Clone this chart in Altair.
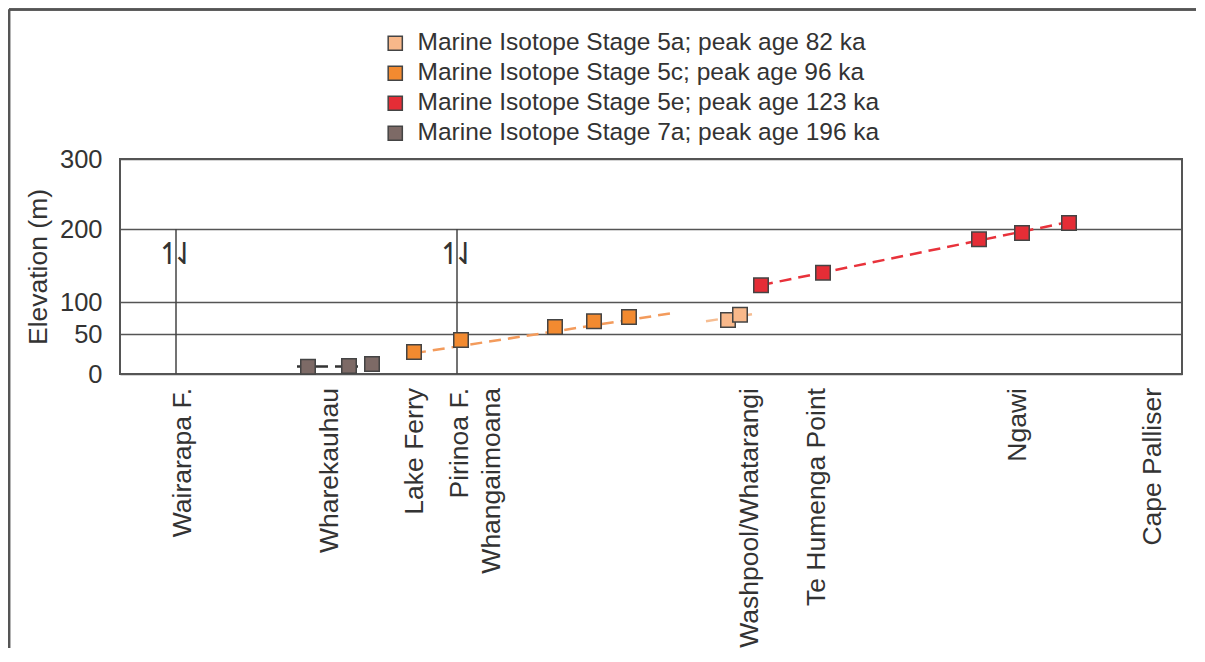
import altair as alt
import pandas as pd

# ---------------- data ----------------
stage_names = [
    "Marine Isotope Stage 5a; peak age 82 ka",
    "Marine Isotope Stage 5c; peak age 96 ka",
    "Marine Isotope Stage 5e; peak age 123 ka",
    "Marine Isotope Stage 7a; peak age 196 ka",
]
stage_fill = ["#F8B88A", "#F28A30", "#E52D36", "#7D6A66"]
stage_line = ["#F6BD92", "#F39B5C", "#E8323B", "#333333"]

# terrace points: position along coast (arbitrary units), elevation (m), stage index
pt_pos = [188, 229, 252, 294, 341, 435, 474, 509, 608, 620, 641, 703, 859, 902, 949]
pt_elev = [9, 10, 12.5, 27.5, 42.5, 61, 70, 76.5, 72, 80, 123, 140, 186, 194.5, 208.5]
pt_stage = [3, 3, 3, 1, 1, 1, 1, 1, 0, 0, 2, 2, 2, 2, 2]

# dashed trend lines: endpoints
ln_stage = [3, 3, 1, 1, 0, 0, 2, 2]
ln_pos = [177, 238, 294, 554, 586, 632, 641, 949]
ln_elev = [9.5, 9.5, 26, 83, 70, 81, 123, 210]

# site labels along the coast
site_names = ["Wairarapa F.", "Wharekauhau", "Lake Ferry", "Pirinoa F.", "Whangaimoana",
              "Washpool/Whatarangi", "Te Humenga Point", "Ngawi", "Cape Palliser"]
site_pos = [63, 210, 295, 340, 372, 630, 697, 898, 1033]

# faults
fault_pos = [56, 337]
fault_top = [200, 200]

y_ticks = [0, 50, 100, 200, 300]
y_px = [215, 175, 143, 70, 0]  # the original axis is not evenly spaced

FONT = "Liberation Sans"
TXT = "#333333"

pts = pd.DataFrame({"pos": pt_pos, "elev": pt_elev,
                    "stage": [stage_names[i] for i in pt_stage]})
lns = pd.DataFrame({"pos": ln_pos, "elev": ln_elev,
                    "stage": [stage_names[i] for i in ln_stage]})
sites = pd.DataFrame({"pos": site_pos, "name": site_names})
faults = pd.DataFrame({"pos": fault_pos, "bottom": [0, 0], "top": fault_top})

W, H = 1062, 215
xs = alt.Scale(domain=[0, W], nice=False, zero=False)
ys = alt.Scale(domain=y_ticks, range=y_px, nice=False, zero=False)

yaxis = alt.Axis(values=y_ticks, grid=True, gridColor="#555555", gridWidth=1.5,
                 domain=False, ticks=False, labelFontSize=25.5, labelFont=FONT,
                 labelColor=TXT, labelPadding=18, title="Elevation (m)",
                 titleFontSize=26.5, titleFont=FONT, titleColor=TXT,
                 titleFontWeight="normal", titlePadding=7)

base_y = alt.Y("elev:Q", scale=ys, axis=yaxis)

fault_lines = alt.Chart(faults).mark_rule(color="#444444", strokeWidth=1.5).encode(
    x=alt.X("pos:Q", scale=xs, axis=None),
    y=alt.Y("bottom:Q", scale=ys, axis=yaxis),
    y2="top:Q",
)

harp_up = alt.Chart(faults).mark_text(text="↿", font="DejaVu Sans", fontSize=30,
                                       color="#333333", dx=-7).encode(
    x=alt.X("pos:Q", scale=xs, axis=None), y=alt.value(96))
harp_dn = alt.Chart(faults).mark_text(text="⇃", font="DejaVu Sans", fontSize=30,
                                       color="#333333", dx=8).encode(
    x=alt.X("pos:Q", scale=xs, axis=None), y=alt.value(96))

lines = alt.Chart(lns).mark_line(strokeDash=[12, 7], strokeWidth=2.5).encode(
    x=alt.X("pos:Q", scale=xs, axis=None),
    y=base_y,
    color=alt.Color("stage:N", scale=alt.Scale(domain=stage_names, range=stage_line),
                    legend=None),
    detail="stage:N",
)

points = alt.Chart(pts).mark_point(shape="square", filled=True, size=210,
                                   stroke="#444444", strokeWidth=1.5, opacity=1).encode(
    x=alt.X("pos:Q", scale=xs, axis=None),
    y=base_y,
    fill=alt.Fill("stage:N", scale=alt.Scale(domain=stage_names, range=stage_fill),
                  legend=alt.Legend(title=None, orient="none", legendX=263, legendY=-128,
                                    padding=0, labelFontSize=24.5, labelFont=FONT,
                                    labelColor=TXT, labelOffset=10, symbolType="square",
                                    symbolSize=200, symbolStrokeColor="#444444",
                                    symbolStrokeWidth=1.5, rowPadding=5, labelLimit=600)),
)

labels = alt.Chart(sites).mark_text(angle=270, align="right", baseline="middle",
                                    fontSize=26.5, font=FONT, color=TXT).encode(
    x=alt.X("pos:Q", scale=xs, axis=None),
    y=alt.value(H + 14),
    text="name:N",
)

# outer figure frame (top and left edges)
frame_top = alt.Chart(faults).mark_rule(color="#555555", strokeWidth=2.5).encode(
    x=alt.value(-111), x2=alt.value(W + 20), y=alt.value(-149.5))
frame_left = alt.Chart(faults).mark_rule(color="#555555", strokeWidth=2.5).encode(
    x=alt.value(-111), y=alt.value(-149.5), y2=alt.value(H + 280))

chart = alt.layer(frame_top, frame_left, fault_lines, harp_up, harp_dn, lines, points, labels).resolve_scale(
    color="independent"
).properties(
    width=W, height=H,
    autosize=alt.AutoSizeParams(type="none"),
    padding={"left": 112, "top": 151, "right": 14, "bottom": 274},
).configure_view(
    stroke="#555555", strokeWidth=2
)

chart.save("out.html", embed_options={"renderer": "svg", "actions": False})
